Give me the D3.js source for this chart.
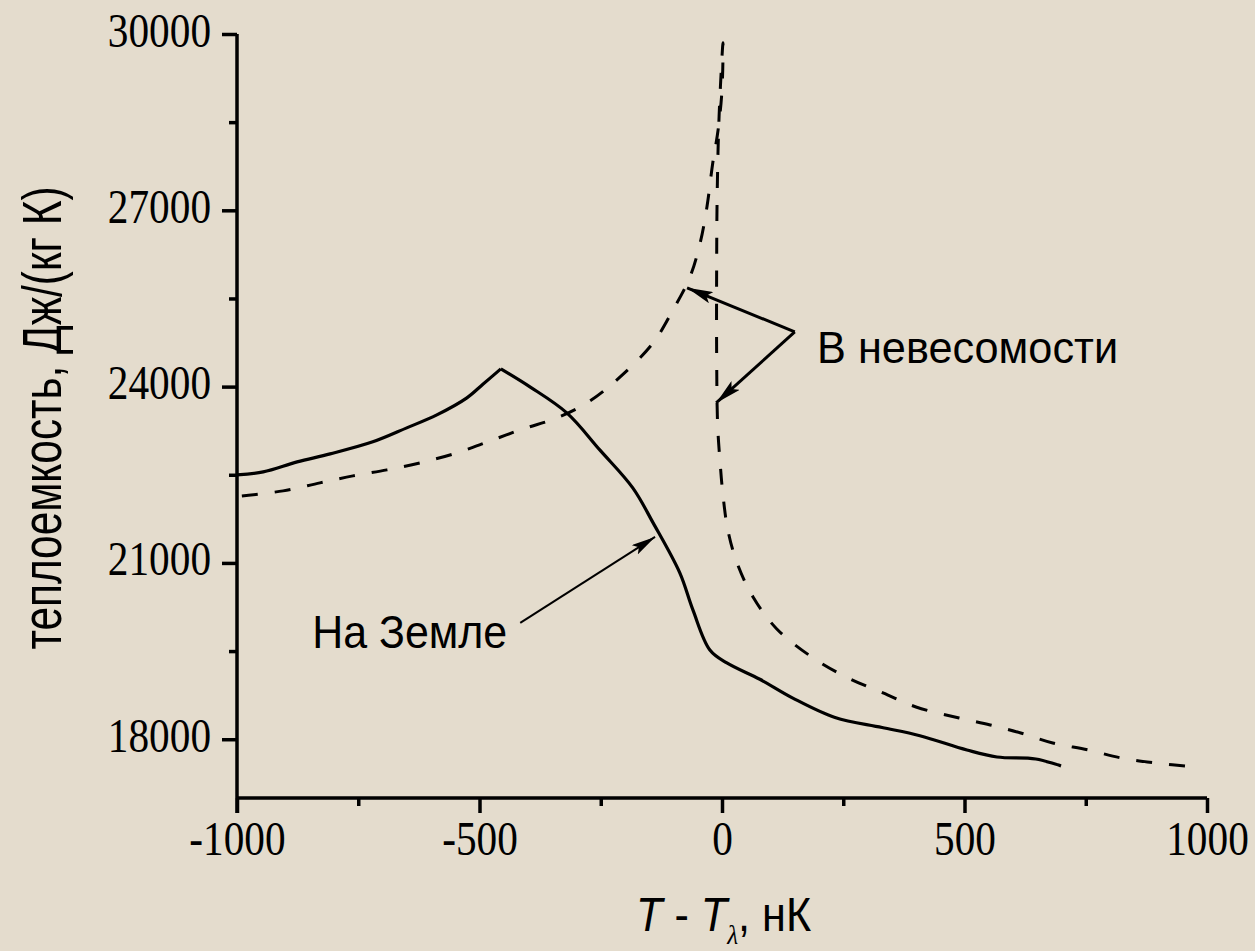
<!DOCTYPE html>
<html>
<head>
<meta charset="utf-8">
<script src="https://cdnjs.cloudflare.com/ajax/libs/d3/7.8.5/d3.min.js"></script>
<style>
  body { margin: 0; background: #e5ddcf; }
  svg { display: block; }
  .axis path, .axis line { stroke: #000; stroke-width: 3.5; }
  .axis text { font-family: "Liberation Serif", "Times New Roman", serif; font-size: 48px; fill: #000; }
  .lbl { font-family: "Liberation Sans", Arial, sans-serif; fill: #000; }
</style>
</head>
<body>
<div class="content"></div>
<script>
// heat capacity, J/(kg K) vs T - T_lambda, nK
var earth = [[-1000, 22498], [-946, 22549], [-876, 22719], [-808, 22855], [-720, 23060],
  [-650, 23298], [-588, 23519], [-526, 23809], [-493, 24040], [-456, 24302],
  [-396, 23996], [-320, 23553], [-252, 22923], [-184, 22277], [-142, 21681],
  [-87, 20830], [-60, 20200], [-25, 19519], [10, 19298], [78, 19020], [146, 18700],
  [233, 18370], [330, 18200], [408, 18060], [505, 17817], [567, 17698], [647, 17664], [699, 17545]];
var earthPeak = 9; // index of the lambda point (sharp corner)

var spaceLeft = [[-990, 22140], [-905, 22226], [-829, 22362], [-761, 22481], [-691, 22583],
  [-623, 22702], [-547, 22872], [-478, 23077], [-410, 23281], [-340, 23468], [-272, 23757],
  [-210, 24166], [-142, 24745], [-101, 25306], [-66, 25868], [-45, 26447], [-31, 27060],
  [-19, 27809], [-8, 28370], [0, 29051], [2, 29851]];

var spaceRight = [[2, 29851], [-6, 28600], [-10, 27230], [-11, 26106], [-11, 24500],
  [-9, 23349], [-4, 22719], [2, 22157], [12, 21562], [31, 21000], [64, 20421],
  [113, 19877], [188, 19383], [260, 19043], [332, 18787], [400, 18549], [489, 18362],
  [553, 18243], [616, 18106], [682, 17936], [755, 17817], [823, 17681], [895, 17596], [975, 17528]];

var xMajor = [-1000, -500, 0, 500, 1000],
    xMinor = [-750, -250, 250, 750],
    yMajor = [18000, 21000, 24000, 27000, 30000],
    yMinor = [19500, 22500, 25500, 28500];

// annotations [x, y] in data units
var spaceText = [196, 24404], spaceVertex = [150, 24932],
    spaceTips = [[-72, 25681], [-12, 23723]];
var earthText = [-845, 19553], earthFrom = [-416, 19979], earthTip = [-138, 21443];

var W = 1255, H = 951, squeeze = 0.86;

var x = d3.scaleLinear().domain([-1000, 1000]).range([237, 1207]);
var y = d3.scaleLinear().domain([17000, 30000]).range([798, 34]);

var svg = d3.select(".content").append("svg")
    .attr("width", W)
    .attr("height", H);

svg.append("rect").attr("width", W).attr("height", H).attr("fill", "#e4dccd");

var defs = svg.append("defs");
function marker(id, len, wid) {
  defs.append("marker")
      .attr("id", id)
      .attr("markerUnits", "userSpaceOnUse")
      .attr("markerWidth", len).attr("markerHeight", wid)
      .attr("refX", len).attr("refY", wid / 2)
      .attr("orient", "auto")
    .append("path")
      .attr("d", "M0,0L" + len + "," + wid / 2 + "L0," + wid + "L" + (len * 0.2) + "," + wid / 2 + "Z")
      .attr("fill", "#000");
}
marker("headBig", 26, 12);
marker("headSmall", 24, 11);

var plain = function(d) { return String(d); };

// minor ticks
svg.append("g").attr("class", "axis")
    .attr("transform", "translate(0," + y(17000) + ")")
    .call(d3.axisBottom(x).tickValues(xMinor).tickSize(8).tickSizeOuter(0).tickFormat(""))
    .select(".domain").remove();
svg.append("g").attr("class", "axis")
    .attr("transform", "translate(" + x(-1000) + ",0)")
    .call(d3.axisLeft(y).tickValues(yMinor).tickSize(8).tickSizeOuter(0).tickFormat(""))
    .select(".domain").remove();

var gx = svg.append("g").attr("class", "axis")
    .attr("transform", "translate(0," + y(17000) + ")")
    .call(d3.axisBottom(x).tickValues(xMajor).tickSize(15).tickSizeOuter(0).tickPadding(8).tickFormat(plain));
gx.select(".domain").attr("d", "M" + x(-1000) + ",0H" + x(1000));

var gy = svg.append("g").attr("class", "axis")
    .attr("transform", "translate(" + x(-1000) + ",0)")
    .call(d3.axisLeft(y).tickValues(yMajor).tickSize(15).tickSizeOuter(0).tickPadding(11).tickFormat(plain));
gy.select(".domain").attr("d", "M0," + y(30000) + "V" + (y(17000) + 15));
gy.selectAll("text").attr("dy", "0.25em");

// squeeze the serif tick labels like the original
svg.selectAll(".axis text").each(function() {
  var t = d3.select(this), x0 = +t.attr("x") || 0;
  t.attr("x", x0 / squeeze).attr("transform", "scale(" + squeeze + ",1)");
});

var smooth = d3.line()
    .x(function(d) { return x(d[0]); })
    .y(function(d) { return y(d[1]); })
    .curve(d3.curveCatmullRom.alpha(0.5));

svg.append("path")
    .attr("d", smooth(spaceLeft.concat(spaceRight.slice(1))))
    .attr("fill", "none")
    .attr("stroke", "#000")
    .attr("stroke-width", 3)
    .attr("stroke-dasharray", "16,17");

// earth curve: smooth on both sides, sharp at the lambda point
svg.append("path")
    .attr("d", smooth(earth.slice(0, earthPeak + 1)) + smooth(earth.slice(earthPeak)))
    .attr("fill", "none")
    .attr("stroke", "#000")
    .attr("stroke-width", 3.2)
    .attr("stroke-linejoin", "round");

// annotations
spaceTips.forEach(function(t) {
  svg.append("line")
      .attr("x1", x(spaceVertex[0])).attr("y1", y(spaceVertex[1]))
      .attr("x2", x(t[0])).attr("y2", y(t[1]))
      .attr("stroke", "#000").attr("stroke-width", 3)
      .attr("marker-end", "url(#headBig)");
});
svg.append("text").attr("class", "lbl")
    .attr("x", x(spaceText[0])).attr("y", y(spaceText[1]))
    .attr("font-size", 44)
    .attr("textLength", 301).attr("lengthAdjust", "spacingAndGlyphs")
    .text("В невесомости");

svg.append("line")
    .attr("x1", x(earthFrom[0])).attr("y1", y(earthFrom[1]))
    .attr("x2", x(earthTip[0])).attr("y2", y(earthTip[1]))
    .attr("stroke", "#000").attr("stroke-width", 2)
    .attr("marker-end", "url(#headSmall)");
svg.append("text").attr("class", "lbl")
    .attr("x", x(earthText[0])).attr("y", y(earthText[1]))
    .attr("font-size", 47)
    .attr("textLength", 195).attr("lengthAdjust", "spacingAndGlyphs")
    .text("На Земле");

// axis titles
svg.append("text").attr("class", "lbl")
    .attr("transform", "translate(61,418) rotate(-90)")
    .attr("text-anchor", "middle")
    .attr("font-size", 55)
    .attr("textLength", 463).attr("lengthAdjust", "spacingAndGlyphs")
    .text("теплоемкость, Дж/(кг К)");

var xt = svg.append("text").attr("class", "lbl")
    .attr("transform", "translate(636,931) scale(0.9,1)")
    .attr("font-size", 48);
xt.append("tspan").attr("font-style", "italic").text("T");
xt.append("tspan").text(" - ");
xt.append("tspan").attr("font-style", "italic").text("T");
xt.append("tspan").attr("font-style", "italic").attr("font-family", "Liberation Serif, serif")
    .attr("font-size", 28).attr("dy", 13).text("λ");
xt.append("tspan").attr("dy", -13).text(", нК");
</script>
</body>
</html>
